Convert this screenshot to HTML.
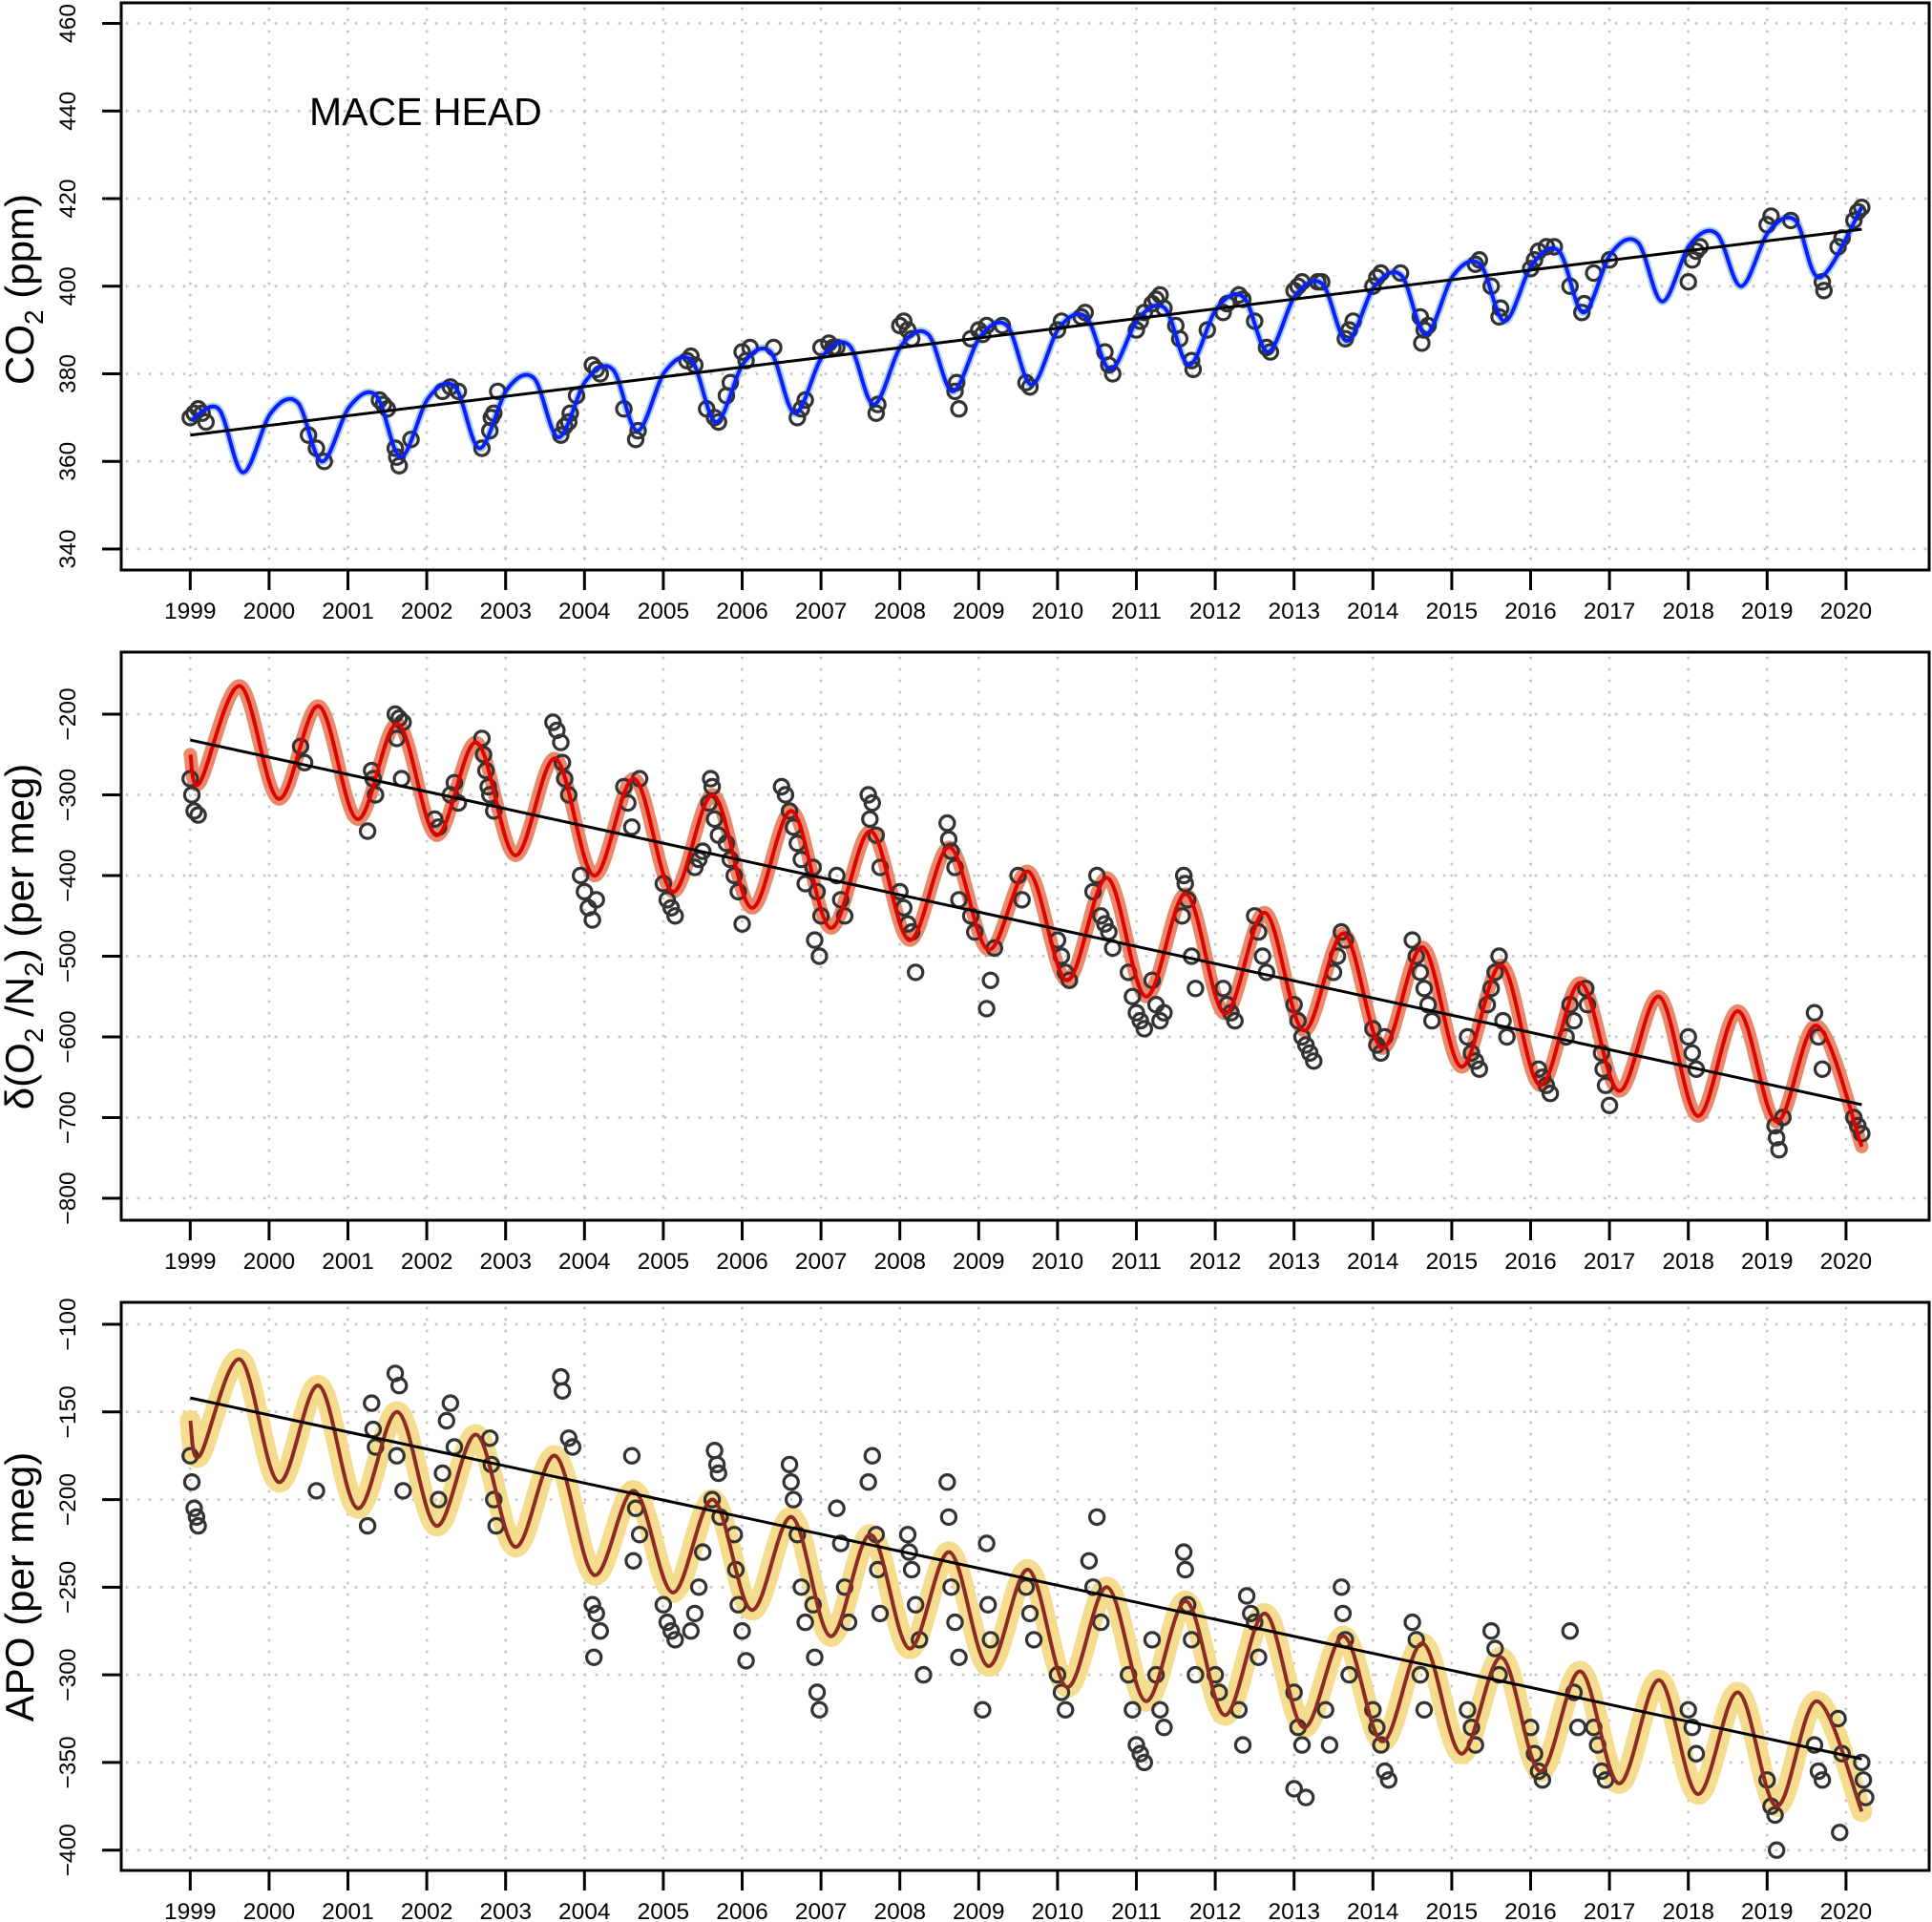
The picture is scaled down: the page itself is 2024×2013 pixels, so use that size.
<!DOCTYPE html>
<html><head><meta charset="utf-8"><style>
html,body{margin:0;padding:0;background:#fff;}
svg{display:block;font-family:"Liberation Sans",Arial,sans-serif;}
</style></head><body>
<svg id="chart" width="2024" height="2013" viewBox="0 0 2024 2013" xmlns="http://www.w3.org/2000/svg"></svg>
<script>
// ---------- data ----------
const years = [1999,2000,2001,2002,2003,2004,2005,2006,2007,2008,2009,2010,2011,2012,2013,2014,2015,2016,2017,2018,2019,2020];
const co2Ticks = [340,360,380,400,420,440,460];
const o2Ticks = [-800,-700,-600,-500,-400,-300,-200];
const apoTicks = [-400,-350,-300,-250,-200,-150,-100];

// CO2 fitted curve: winter level, seasonal maxima (~spring) and minima (~late summer)
const co2CycleYears = [1999,2000,2001,2002,2003,2004,2005,2006,2007,2008,2009,2010,2011,2012,2013,2014,2015,2016,2017,2018,2019];
const co2Winter = [369.5,371,372.5,374.5,376.5,378.5,380.5,382.5,384,386.5,388.5,390.5,392.5,395,398,400,402.5,405,407.5,409.5,412.5];
const co2Max = [372,373.5,375,377,379,381,383,385,386.5,389,391,393,395,397.5,400.5,402.5,405,408,410,412,415];
const co2Min = [357.5,360,361,363,365.5,367,369,371,373,376,377.5,381,382,385,387.5,389,392,394,396.5,400,402];
const co2End = [2020.2,418];
const co2Trend = [[1999.0,366],[2020.2,413]];
const co2Obs = [[1999.0,370],[1999.05,371],[1999.1,372],[1999.15,371],[1999.2,369],[2000.5,366],[2000.6,363],[2000.7,360],
[2001.4,374],[2001.45,373],[2001.5,372],[2001.6,363],[2001.62,361],[2001.65,359],[2001.8,365],[2002.2,376],[2002.3,377],[2002.4,376],
[2002.7,363],[2002.8,367],[2002.82,370],[2002.85,371],[2002.9,376],[2003.7,366],[2003.75,368],[2003.8,369],[2003.82,371],[2003.9,375],
[2004.1,382],[2004.15,381],[2004.2,380],[2004.5,372],[2004.65,365],[2004.68,367],[2005.3,383],[2005.35,384],[2005.4,382],[2005.55,372],
[2005.65,370],[2005.7,369],[2005.8,375],[2005.85,378],[2006.0,385],[2006.05,383],[2006.1,386],[2006.4,386],[2006.7,370],[2006.75,372],[2006.8,374],
[2007.0,386],[2007.1,387],[2007.15,386],[2007.2,386],[2007.7,371],[2007.72,373],[2008.0,391],[2008.05,392],[2008.1,390],[2008.15,388],
[2008.7,376],[2008.75,372],[2008.72,378],[2008.9,388],[2009.0,390],[2009.05,389],[2009.1,391],[2009.3,391],[2009.6,378],[2009.65,377],
[2010.0,390],[2010.05,392],[2010.3,393],[2010.35,394],[2010.6,385],[2010.65,382],[2010.7,380],[2011.0,390],[2011.05,392],[2011.1,394],
[2011.2,396],[2011.25,397],[2011.3,398],[2011.35,395],[2011.5,391],[2011.55,388],[2011.7,383],[2011.72,381],[2011.9,390],[2012.1,394],[2012.15,396],
[2012.3,398],[2012.35,397],[2012.5,392],[2012.65,386],[2012.7,385],[2013.0,399],[2013.05,400],[2013.1,401],[2013.3,401],[2013.35,401],
[2013.65,388],[2013.7,390],[2013.75,392],[2014.0,400],[2014.05,402],[2014.1,403],[2014.35,403],[2014.6,393],[2014.65,390],[2014.62,387],[2014.7,391],
[2015.3,405],[2015.35,406],[2015.5,400],[2015.6,393],[2015.62,395],[2016.0,404],[2016.05,406],[2016.1,408],[2016.2,409],[2016.3,409],
[2016.5,400],[2016.65,394],[2016.68,396],[2016.8,403],[2017.0,406],[2018.0,401],[2018.05,406],[2018.1,408],[2018.15,409],[2019.0,414],[2019.05,416],
[2019.3,415],[2019.7,401],[2019.72,399],[2019.9,409],[2019.95,411],[2020.1,415],[2020.15,417],[2020.2,418]];

// O2/N2 fitted curve: troughs (~Feb) and peaks (~Aug)
const o2CycleYears = [1999,2000,2001,2002,2003,2004,2005,2006,2007,2008,2009,2010,2011,2012,2013,2014,2015,2016,2017,2018,2019];
const o2Trough = [-285,-305,-330,-350,-375,-400,-420,-440,-465,-480,-492,-530,-550,-571,-592,-614,-637,-660,-667,-698,-705];
const o2Peak = [-165,-190,-212,-235,-255,-280,-300,-320,-345,-365,-395,-403,-423,-446,-472,-489,-511,-533,-550,-568,-586];
const o2Start = [1999.0,-250];
const o2End = [2020.2,-736];
const o2Trend = [[1999.0,-232],[2020.2,-684]];
const o2Obs = [[1999.0,-280],[1999.02,-300],[1999.05,-320],[1999.1,-325],[2000.4,-240],[2000.45,-260],[2001.3,-270],[2001.32,-280],[2001.35,-300],[2001.25,-345],
[2001.6,-200],[2001.65,-205],[2001.7,-210],[2001.62,-230],[2001.68,-280],[2002.1,-330],[2002.15,-340],[2002.3,-300],[2002.35,-285],[2002.4,-310],
[2002.7,-230],[2002.72,-250],[2002.75,-270],[2002.78,-290],[2002.8,-300],[2002.85,-320],[2003.6,-210],[2003.65,-220],[2003.7,-235],[2003.72,-260],[2003.75,-280],[2003.8,-300],
[2004.0,-420],[2004.05,-440],[2004.1,-455],[2003.95,-400],[2004.15,-430],[2004.5,-290],[2004.55,-310],[2004.6,-340],[2004.7,-280],
[2005.0,-410],[2005.05,-430],[2005.1,-440],[2005.15,-450],[2005.5,-370],[2005.45,-380],[2005.4,-390],[2005.6,-280],[2005.62,-290],[2005.58,-310],[2005.65,-330],[2005.7,-350],
[2005.8,-360],[2005.85,-380],[2005.9,-400],[2005.95,-420],[2006.0,-460],[2006.5,-290],[2006.55,-300],[2006.6,-320],[2006.65,-340],[2006.7,-360],[2006.75,-380],[2006.8,-410],
[2006.9,-390],[2006.95,-420],[2007.0,-450],[2006.92,-480],[2006.98,-500],[2007.2,-400],[2007.25,-430],[2007.3,-450],[2007.6,-300],[2007.65,-310],[2007.62,-330],[2007.7,-350],[2007.75,-390],
[2008.0,-420],[2008.05,-440],[2008.1,-460],[2008.15,-470],[2008.2,-520],[2008.6,-335],[2008.62,-355],[2008.65,-370],[2008.7,-390],[2008.75,-430],[2008.9,-450],[2008.95,-470],
[2009.1,-565],[2009.15,-530],[2009.2,-490],[2009.5,-400],[2009.55,-430],[2010.0,-480],[2010.05,-500],[2010.1,-520],[2010.15,-530],
[2010.5,-400],[2010.45,-420],[2010.55,-450],[2010.6,-460],[2010.65,-470],[2010.7,-490],[2010.9,-520],[2010.95,-550],[2011.0,-570],[2011.05,-580],[2011.1,-590],
[2011.2,-530],[2011.25,-560],[2011.3,-580],[2011.35,-570],[2011.6,-400],[2011.62,-410],[2011.65,-430],[2011.58,-450],[2011.7,-500],[2011.75,-540],
[2012.1,-540],[2012.15,-560],[2012.2,-570],[2012.25,-580],[2012.5,-450],[2012.55,-470],[2012.6,-500],[2012.65,-520],
[2013.0,-560],[2013.05,-580],[2013.1,-600],[2013.15,-610],[2013.2,-620],[2013.25,-630],[2013.5,-520],[2013.55,-500],[2013.6,-470],[2013.65,-480],
[2014.0,-590],[2014.05,-610],[2014.1,-620],[2014.15,-600],[2014.5,-480],[2014.55,-500],[2014.6,-520],[2014.65,-540],[2014.7,-560],[2014.75,-580],
[2015.2,-600],[2015.25,-620],[2015.3,-630],[2015.35,-640],[2015.6,-500],[2015.55,-520],[2015.5,-540],[2015.45,-560],[2015.65,-580],[2015.7,-600],
[2016.1,-640],[2016.15,-650],[2016.2,-660],[2016.25,-670],[2016.5,-560],[2016.55,-580],[2016.45,-600],[2016.7,-540],[2016.72,-560],
[2016.9,-620],[2016.92,-640],[2016.95,-660],[2017.0,-685],[2018.0,-600],[2018.05,-620],[2018.1,-640],[2019.1,-710],[2019.12,-725],[2019.15,-740],[2019.2,-700],
[2019.6,-570],[2019.65,-600],[2019.7,-640],[2020.1,-700],[2020.15,-710],[2020.2,-720]];

// APO fitted curve
const apoCycleYears = [1999,2000,2001,2002,2003,2004,2005,2006,2007,2008,2009,2010,2011,2012,2013,2014,2015,2016,2017,2018,2019];
const apoTrough = [-175,-190,-205,-215,-227,-243,-253,-263,-278,-285,-295,-307,-315,-323,-330,-338,-345,-355,-362,-368,-375];
const apoPeak = [-120,-135,-150,-163,-175,-195,-200,-210,-220,-230,-240,-250,-258,-265,-278,-282,-290,-298,-303,-310,-315];
const apoStart = [1999.0,-155];
const apoEnd = [2020.2,-378];
const apoTrend = [[1999.0,-142],[2020.2,-348]];
const apoObs = [[1999.0,-175],[1999.02,-190],[1999.05,-205],[1999.08,-210],[1999.1,-215],[2000.6,-195],[2001.3,-145],[2001.32,-160],[2001.35,-170],[2001.25,-215],
[2001.6,-128],[2001.65,-135],[2001.62,-175],[2001.7,-195],[2002.3,-145],[2002.25,-155],[2002.35,-170],[2002.2,-185],[2002.15,-200],
[2002.8,-165],[2002.82,-180],[2002.85,-200],[2002.88,-215],[2003.7,-130],[2003.72,-138],[2003.8,-165],[2003.85,-170],
[2004.1,-260],[2004.15,-265],[2004.2,-275],[2004.12,-290],[2004.6,-175],[2004.65,-205],[2004.7,-220],[2004.62,-235],
[2005.0,-260],[2005.05,-270],[2005.1,-275],[2005.15,-280],[2005.5,-230],[2005.45,-250],[2005.4,-265],[2005.35,-275],
[2005.65,-172],[2005.68,-180],[2005.7,-185],[2005.62,-200],[2005.72,-210],[2005.9,-220],[2005.92,-240],[2005.95,-260],[2006.0,-275],[2006.05,-292],
[2006.6,-180],[2006.62,-190],[2006.65,-200],[2006.7,-220],[2006.75,-250],[2006.8,-270],[2006.9,-260],[2006.92,-290],[2006.95,-310],[2006.98,-320],
[2007.2,-205],[2007.25,-225],[2007.3,-250],[2007.35,-270],[2007.65,-175],[2007.6,-190],[2007.7,-220],[2007.72,-240],[2007.75,-265],
[2008.1,-220],[2008.12,-230],[2008.15,-240],[2008.2,-260],[2008.25,-280],[2008.3,-300],[2008.6,-190],[2008.62,-210],[2008.65,-250],[2008.7,-270],[2008.75,-290],
[2009.1,-225],[2009.12,-260],[2009.15,-280],[2009.05,-320],[2009.6,-250],[2009.65,-265],[2009.7,-280],[2010.0,-300],[2010.05,-310],[2010.1,-320],
[2010.5,-210],[2010.4,-235],[2010.45,-250],[2010.55,-270],[2010.9,-300],[2010.95,-320],[2011.0,-340],[2011.05,-345],[2011.1,-350],
[2011.2,-280],[2011.25,-300],[2011.3,-320],[2011.35,-330],[2011.6,-230],[2011.62,-240],[2011.65,-260],[2011.7,-280],[2011.75,-300],
[2012.0,-300],[2012.05,-310],[2012.4,-255],[2012.45,-265],[2012.5,-270],[2012.55,-290],[2012.3,-320],[2012.35,-340],
[2013.0,-310],[2013.05,-330],[2013.1,-340],[2013.0,-365],[2013.15,-370],[2013.4,-320],[2013.45,-340],[2013.6,-250],[2013.62,-265],[2013.65,-280],[2013.7,-300],
[2014.0,-320],[2014.05,-330],[2014.1,-340],[2014.15,-355],[2014.2,-360],[2014.5,-270],[2014.55,-280],[2014.6,-300],[2014.65,-320],
[2015.2,-320],[2015.25,-330],[2015.3,-340],[2015.5,-275],[2015.55,-285],[2015.6,-300],[2016.0,-330],[2016.05,-345],[2016.1,-355],[2016.15,-360],
[2016.5,-275],[2016.55,-310],[2016.6,-330],[2016.8,-330],[2016.85,-340],[2016.9,-355],[2016.95,-360],[2018.0,-320],[2018.05,-330],[2018.1,-345],
[2019.0,-360],[2019.05,-375],[2019.1,-380],[2019.12,-400],[2019.6,-340],[2019.65,-355],[2019.7,-360],[2019.9,-325],[2019.95,-345],[2019.92,-390],
[2020.2,-350],[2020.22,-360],[2020.25,-370]];

// ---------- rendering ----------
const NS = 'http://www.w3.org/2000/svg';
const svg = document.getElementById('chart');
function mk(tag, attrs, parent){const e=document.createElementNS(NS,tag);for(const k in attrs)e.setAttribute(k,attrs[k]);(parent||svg).appendChild(e);return e;}

const X0 = 199.3, XPY = 82.6;
const xs = t => X0 + (t-1999)*XPY;
const L = 127, R = 2021;

function spline(pts, xf, yf){
  const p = pts.map(d=>[xf(d[0]), yf(d[1])]);
  let s = 'M'+p[0][0].toFixed(1)+','+p[0][1].toFixed(1);
  for(let i=0;i<p.length-1;i++){
    const p0=p[Math.max(0,i-1)],p1=p[i],p2=p[i+1],p3=p[Math.min(p.length-1,i+2)];
    const c1x=p1[0]+(p2[0]-p0[0])/6,c1y=p1[1]+(p2[1]-p0[1])/6;
    const c2x=p2[0]-(p3[0]-p1[0])/6,c2y=p2[1]-(p3[1]-p1[1])/6;
    s+=' C'+c1x.toFixed(1)+','+c1y.toFixed(1)+' '+c2x.toFixed(1)+','+c2y.toFixed(1)+' '+p2[0].toFixed(1)+','+p2[1].toFixed(1);
  }
  return s;
}

function panel(cfg){
  const g = mk('g',{});
  
  
  const ys = v => cfg.y0px + (v-cfg.v0)*(cfg.y1px-cfg.y0px)/(cfg.v1-cfg.v0);
  const grid = mk('g',{stroke:'#c8c8c8','stroke-width':3,'stroke-dasharray':'0,12','stroke-linecap':'round'},g);
  
  
  years.forEach(y=>mk('line',{x1:xs(y),x2:xs(y),y1:cfg.top+6,y2:cfg.bottom-2},grid));
  cfg.ticks.forEach(v=>mk('line',{x1:L+6,x2:R-2,y1:ys(v),y2:ys(v)},grid));
  const band = mk('path',{d:spline(cfg.knots,xs,ys),fill:'none',stroke:cfg.bandColor,'stroke-width':cfg.bandW,'stroke-linejoin':'round','stroke-linecap':'round'},g);
  
  
  const pg = mk('g',{fill:'none',stroke:'#333','stroke-width':3.2},g);
  
  
  cfg.obs.forEach(d=>{
    const c = mk('circle',{cx:xs(d[0]).toFixed(1),cy:ys(d[1]).toFixed(1),r:7.6},pg);
    
    
  });
  const line = mk('path',{d:spline(cfg.knots,xs,ys),fill:'none',stroke:cfg.lineColor,'stroke-width':4,'stroke-linejoin':'round'},g);
  
  
  const tr = mk('line',{x1:xs(cfg.trend[0][0]),y1:ys(cfg.trend[0][1]),x2:xs(cfg.trend[1][0]),y2:ys(cfg.trend[1][1]),stroke:'#000','stroke-width':3},g);
  
  
  const fr = mk('rect',{x:L,y:cfg.top,width:R-L,height:cfg.bottom-cfg.top,fill:'none',stroke:'#000','stroke-width':3},g);
  
  
  const xa = mk('g',{},g);
  
  
  years.forEach(y=>{
    mk('line',{x1:xs(y),x2:xs(y),y1:cfg.bottom,y2:cfg.bottom+21,stroke:'#000','stroke-width':3},xa);
    const t = mk('text',{x:xs(y),y:cfg.bottom+51,'text-anchor':'middle','font-size':24.5,fill:'#000'},xa);
    
    
    t.textContent = y;
  });
  const ya = mk('g',{},g);
  
  
  cfg.ticks.forEach(v=>{
    mk('line',{x1:L-20,x2:L,y1:ys(v),y2:ys(v),stroke:'#000','stroke-width':3},ya);
    const t = mk('text',{x:0,y:0,'text-anchor':'middle','font-size':24.5,fill:'#000',transform:'translate(79,'+ys(v)+') rotate(-90)'},ya);
    
    
    t.textContent = v<0 ? '\u2212'+Math.abs(v) : v;
  });
  return ys;
}

function knotsFrom(start, yrs, a, b, offA, offB, end){
  const k=[start];
  yrs.forEach((y,i)=>{k.push([y+offA,a[i]]);k.push([y+offB,b[i]]);});
  k.push(end);return k;
}
function co2Knots(){
  const k=[];
  co2CycleYears.forEach((y,i)=>{k.push([y+0.02,co2Winter[i]]);k.push([y+0.36,co2Max[i]]);k.push([y+0.67,co2Min[i]]);});
  k.push(co2End);return k;
}

panel({name:'co2',top:3,bottom:597,y0px:575,v0:340,y1px:24.5,v1:460,ticks:co2Ticks,
  knots:co2Knots(),obs:co2Obs,trend:co2Trend,
  bandColor:'#a9cbe6',bandW:8,lineColor:'#0a1fff'});
panel({name:'o2n2',top:683,bottom:1278,y0px:748,v0:-200,y1px:1255,v1:-800,ticks:o2Ticks,
  knots:knotsFrom(o2Start,o2CycleYears,o2Trough,o2Peak,0.12,0.63,o2End),obs:o2Obs,trend:o2Trend,
  bandColor:'#e8896c',bandW:14,lineColor:'#e00000'});
panel({name:'apo',top:1364,bottom:1959,y0px:1387,v0:-100,y1px:1937.7,v1:-400,ticks:apoTicks,
  knots:knotsFrom(apoStart,apoCycleYears,apoTrough,apoPeak,0.12,0.63,apoEnd),obs:apoObs,trend:apoTrend,
  bandColor:'#f6dc8e',bandW:22,lineColor:'#8e2a22'});

function title(txt, cy, name){
  const t = mk('text',{x:0,y:0,'text-anchor':'middle','font-size':42,fill:'#000',transform:'translate(35,'+cy+') rotate(-90)'});
  
  
  t.innerHTML = txt;
}
title('CO<tspan font-size="28" dy="10">2</tspan><tspan dy="-10">  (ppm)</tspan>',303,'co2-y-axis-title');
title('\u03b4(O<tspan font-size="28" dy="10">2</tspan><tspan dy="-10"> /N</tspan><tspan font-size="28" dy="10">2</tspan><tspan dy="-10">) (per meg)</tspan>',981,'o2n2-y-axis-title');
title('APO (per meg)',1662,'apo-y-axis-title');
const st = mk('text',{x:324,y:131,'font-size':41,fill:'#000'});


st.textContent = 'MACE HEAD';
</script>
</body></html>
